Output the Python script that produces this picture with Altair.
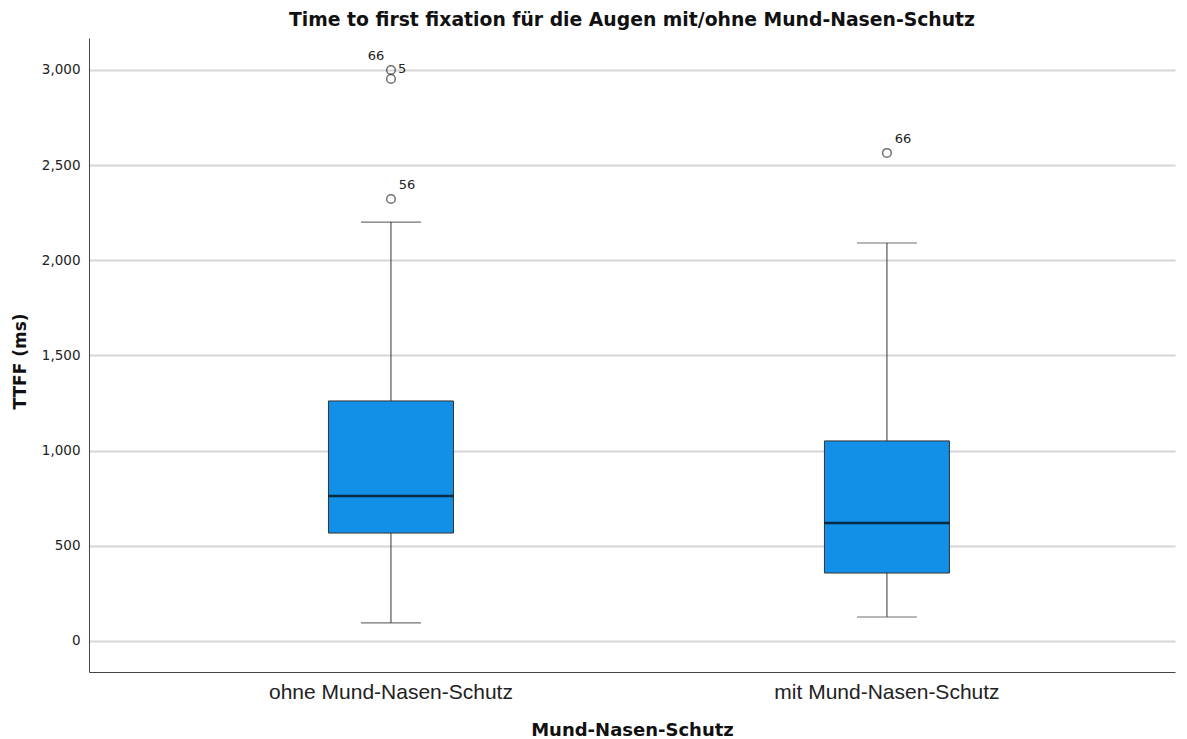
import altair as alt
import pandas as pd

groups = ["ohne Mund-Nasen-Schutz", "mit Mund-Nasen-Schutz"]
whisker_low = [95, 126]
q1 = [567, 357]
median = [762, 620]
q3 = [1261, 1051]
whisker_high = [2201, 2091]

outlier_group = ["ohne Mund-Nasen-Schutz", "ohne Mund-Nasen-Schutz", "ohne Mund-Nasen-Schutz", "mit Mund-Nasen-Schutz"]
outlier_value = [3000, 2953, 2322, 2564]

# labels upper-right of point
lab_ur_group = ["ohne Mund-Nasen-Schutz", "mit Mund-Nasen-Schutz"]
lab_ur_value = [2322, 2564]
lab_ur_text = ["56", "66"]
# label right of point
lab_r_group = ["ohne Mund-Nasen-Schutz"]
lab_r_value = [3000]
lab_r_text = ["5"]
# label upper-left of point
lab_ul_group = ["ohne Mund-Nasen-Schutz"]
lab_ul_value = [3000]
lab_ul_text = ["66"]

FONT = "Liberation Sans"
WIDE = "DejaVu Sans"

box = pd.DataFrame({"g": groups, "lo": whisker_low, "q1": q1, "med": median, "q3": q3, "hi": whisker_high})
out = pd.DataFrame({"g": outlier_group, "v": outlier_value})
lur = pd.DataFrame({"g": lab_ur_group, "v": lab_ur_value, "t": lab_ur_text})
lr = pd.DataFrame({"g": lab_r_group, "v": lab_r_value, "t": lab_r_text})
lul = pd.DataFrame({"g": lab_ul_group, "v": lab_ul_value, "t": lab_ul_text})

xenc = alt.X("g:N", sort=groups, title="Mund-Nasen-Schutz",
             scale=alt.Scale(paddingInner=0, paddingOuter=0.0948, align=0.574),
             axis=alt.Axis(labelAngle=0, ticks=False, labelFontSize=21, labelColor="#222222",
                           labelFont=FONT, labelPadding=9, labelLimit=0, titleFont=WIDE,
                           titleFontSize=18, titleFontWeight="bold", titleColor="#111111",
                           titlePadding=19, domainColor="#444444", domainWidth=1, grid=False))
yscale = alt.Scale(domain=[-163, 3168], nice=False, zero=False)
yaxis = alt.Axis(values=[0, 500, 1000, 1500, 2000, 2500, 3000], format=",.0f", ticks=False,
                 labelFontSize=13.5, labelFont=WIDE, labelColor="#222222", labelPadding=9,
                 title="TTFF (ms)", titleFont=WIDE, titleFontSize=17, titleFontWeight="bold",
                 titleColor="#111111", titlePadding=12, titleY=323, domainColor="#444444",
                 domainWidth=1, grid=True, gridColor="#d6d6d6", gridWidth=2)

base = alt.Chart(box)
whisk = base.mark_rule(color="#333333", strokeWidth=1).encode(
    x=xenc, y=alt.Y("lo:Q", scale=yscale, axis=yaxis), y2="hi:Q")
bar = base.mark_bar(size=125, color="#128fe6", stroke="#333333", strokeWidth=1).encode(
    x=xenc, y=alt.Y("q1:Q", scale=yscale), y2="q3:Q")
med = base.mark_tick(size=125, thickness=2.5, color="#000000").encode(
    x=xenc, y=alt.Y("med:Q", scale=yscale))
caplo = base.mark_tick(size=60, thickness=1.2, color="#333333").encode(
    x=xenc, y=alt.Y("lo:Q", scale=yscale))
caphi = base.mark_tick(size=60, thickness=1.2, color="#333333").encode(
    x=xenc, y=alt.Y("hi:Q", scale=yscale))
pts = alt.Chart(out).mark_point(shape="circle", filled=False, size=75, color="#333333",
                                strokeWidth=1.5).encode(x=xenc, y=alt.Y("v:Q", scale=yscale))
tstyle = dict(font=WIDE, fontSize=13, color="#222222")
t1 = alt.Chart(lur).mark_text(dx=16, dy=-14, **tstyle).encode(
    x=xenc, y=alt.Y("v:Q", scale=yscale), text="t:N")
t2 = alt.Chart(lr).mark_text(dx=7, dy=-1, align="left", **tstyle).encode(
    x=xenc, y=alt.Y("v:Q", scale=yscale), text="t:N")
t3 = alt.Chart(lul).mark_text(dx=-15, dy=-14, **tstyle).encode(
    x=xenc, y=alt.Y("v:Q", scale=yscale), text="t:N")

chart = alt.layer(whisk, bar, med, caplo, caphi, pts, t1, t2, t3).properties(
    width=1086, height=634, background="white",
    title=alt.TitleParams("Time to first fixation für die Augen mit/ohne Mund-Nasen-Schutz",
                          font=WIDE, fontSize=18.8, fontWeight="bold", color="#111111",
                          anchor="middle", offset=8),
    autosize=alt.AutoSizeParams(type="none"),
    padding={"left": 81, "top": 30, "right": 4, "bottom": 66},
).configure_view(strokeWidth=0, stroke="transparent")

chart.save("out.html", embed_options={"renderer": "svg", "actions": False})
